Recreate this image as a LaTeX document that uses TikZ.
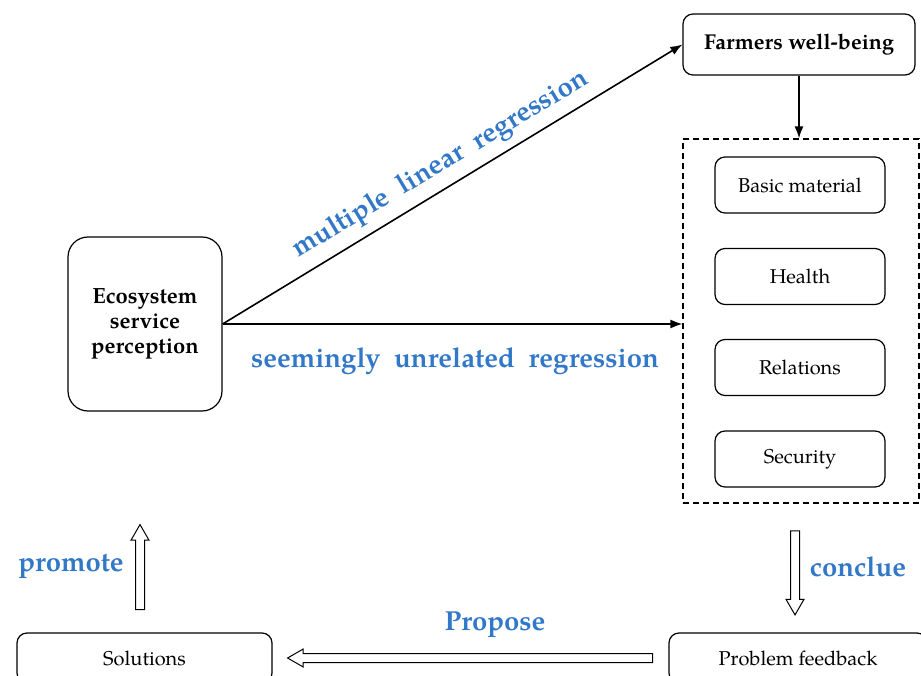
\documentclass[tikz,border=0pt]{standalone}
\usepackage{fontspec}
\setmainfont{TeX Gyre Pagella}
\usetikzlibrary{shapes.arrows,arrows.meta}
\definecolor{lblue}{RGB}{50,120,200}
\begin{document}
\begin{tikzpicture}[x=1pt,y=-1pt,
  box/.style={draw, line width=1.2pt, rounded corners=10pt, align=center, inner sep=0pt},
  sub/.style={box, minimum width=170pt, minimum height=56pt, font=\fontsize{20}{24}\selectfont},
  lab/.style={text=lblue, font=\bfseries\fontsize{27.5}{32}\selectfont, inner sep=0pt},
  conn/.style={line width=1.6pt, -{Latex[length=12pt,width=9pt]}},
  fat/.style={single arrow, draw, line width=1pt, inner sep=4pt, single arrow head extend=4.5pt, single arrow tip angle=60}
]
\useasboundingbox (0,0) rectangle (921,676);
\clip (0,0) rectangle (921,676);

\node[box, rounded corners=20pt, minimum width=154pt, minimum height=174pt, font=\bfseries\fontsize{22}{25}\selectfont] (eco) at (145,324) {Ecosystem\\service\\perception};
\node[box, minimum width=232pt, minimum height=61pt, font=\bfseries\fontsize{21.5}{25}\selectfont] (farm) at (799,44.5) {Farmers well-being};
\node[draw, dashed, line width=1.2pt, dash pattern=on 6pt off 4pt, minimum width=236pt, minimum height=364pt, inner sep=0pt] (dash) at (801,321) {};
\node[sub] (basic) at (800,185) {Basic material};
\node[sub] (health) at (800,276.5) {Health};
\node[sub] (rel) at (800,367.5) {Relations};
\node[sub] (sec) at (800,459) {Security};
\node[box, minimum width=255pt, minimum height=50pt, font=\fontsize{20}{24}\selectfont] (sol) at (144.5,658) {Solutions};
\node[box, minimum width=258pt, minimum height=50pt, font=\fontsize{20}{24}\selectfont] (prob) at (798,658) {Problem feedback};

\draw[conn] (eco.east) -- (farm.west);
\draw[conn] (eco.east) -- (eco.east -| dash.west);
\draw[conn] (farm.south) -- (farm.south |- dash.north);

\node[fat, minimum height=85pt, rotate=90] (up) at (140,571) {};
\node[fat, minimum height=84pt, rotate=-90] (down) at (795,569) {};
\node[fat, minimum height=365pt, rotate=180] (left) at (474,658) {};

\node[lab, rotate=31] (mlr) at (441,165) {multiple\ \ linear\ \ regression};
\node[lab] (sur) at (455,361) {seemingly\ \ unrelated\ \ regression};
\node[lab] (prom) at (71,566) {promote};
\node[lab] (conc) at (858,567) {conclue};
\node[lab] (prop) at (495,625) {Propose};
\end{tikzpicture}
\end{document}
